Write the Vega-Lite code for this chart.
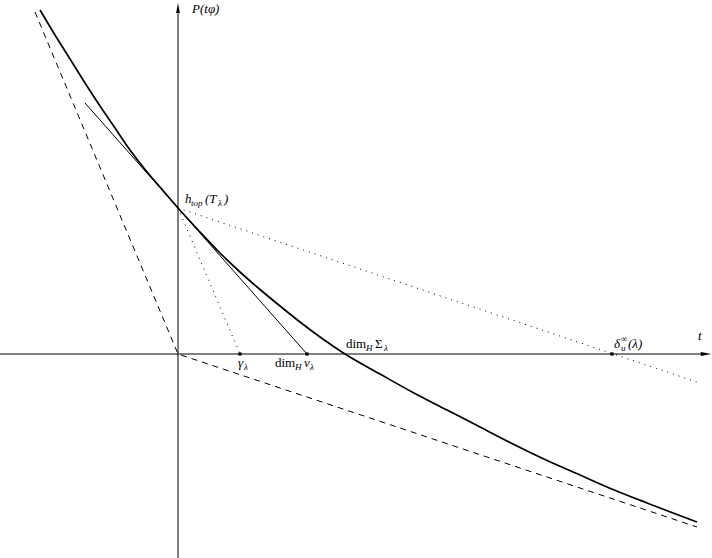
{
  "$schema": "https://vega.github.io/schema/vega-lite/v6.json",
  "width": 712,
  "height": 558,
  "autosize": "none",
  "padding": 0,
  "background": "white",
  "config": {"view": {"stroke": null}},
  "datasets": {
    "segs": [
      {"g": "xaxis", "s": "axis", "o": 1, "t": -1.78, "P": 0},
      {"g": "xaxis", "s": "axis", "o": 2, "t": 5.23, "P": 0},
      {"g": "yaxis", "s": "axis", "o": 1, "t": 0, "P": -2.04},
      {"g": "yaxis", "s": "axis", "o": 2, "t": 0, "P": 3.40},
      {"g": "tan", "s": "thin", "o": 1, "t": -0.93, "P": 2.51},
      {"g": "tan", "s": "thin", "o": 2, "t": 1.29, "P": 0},
      {"g": "dash", "s": "dashed", "o": 1, "t": -1.43, "P": 3.42},
      {"g": "dash", "s": "dashed", "o": 2, "t": 0, "P": 0},
      {"g": "dash", "s": "dashed", "o": 3, "t": 5.19, "P": -1.73},
      {"g": "dot1", "s": "dotted", "o": 1, "t": 0, "P": 1.46},
      {"g": "dot1", "s": "dotted", "o": 2, "t": 0.62, "P": 0},
      {"g": "dot2", "s": "dotted", "o": 1, "t": 0, "P": 1.46},
      {"g": "dot2", "s": "dotted", "o": 2, "t": 5.22, "P": -0.29}
    ],
    "curve": [
      {"t": -1.38, "P": 3.44},
      {"t": -1.23, "P": 3.19},
      {"t": -1.08, "P": 2.95},
      {"t": -0.93, "P": 2.71},
      {"t": -0.78, "P": 2.48},
      {"t": -0.63, "P": 2.26},
      {"t": -0.48, "P": 2.04},
      {"t": -0.33, "P": 1.845},
      {"t": -0.18, "P": 1.67},
      {"t": 0, "P": 1.46},
      {"t": 0.22, "P": 1.22},
      {"t": 0.42, "P": 1.01},
      {"t": 0.62, "P": 0.82},
      {"t": 0.82, "P": 0.645},
      {"t": 1.02, "P": 0.48},
      {"t": 1.22, "P": 0.32},
      {"t": 1.42, "P": 0.17},
      {"t": 1.67, "P": 0},
      {"t": 2.02, "P": -0.20},
      {"t": 2.35, "P": -0.385},
      {"t": 2.69, "P": -0.56},
      {"t": 3.02, "P": -0.73},
      {"t": 3.35, "P": -0.90},
      {"t": 3.68, "P": -1.06},
      {"t": 4.02, "P": -1.21},
      {"t": 4.35, "P": -1.355},
      {"t": 4.69, "P": -1.49},
      {"t": 5.19, "P": -1.68}
    ],
    "arrows": [
      {"dir": "up", "t": 0, "P": 3.46},
      {"dir": "right", "t": 5.28, "P": 0}
    ],
    "marks": [
      {"name": "gamma", "t": 0.62, "P": 0},
      {"name": "dimnu", "t": 1.29, "P": 0},
      {"name": "delta", "t": 4.34, "P": 0}
    ],
    "italic": [
      {"txt": "P(tφ)", "t": 0.14, "P": 3.41},
      {"txt": "h", "t": 0.07, "P": 1.51},
      {"txt": "(T", "t": 0.27, "P": 1.51},
      {"txt": ")", "t": 0.46, "P": 1.51},
      {"txt": "γ", "t": 0.60, "P": -0.13},
      {"txt": "ν", "t": 1.26, "P": -0.13},
      {"txt": "δ", "t": 4.36, "P": 0.06},
      {"txt": "(λ)", "t": 4.50, "P": 0.06},
      {"txt": "t", "t": 5.20, "P": 0.14}
    ],
    "roman": [
      {"txt": "dim", "t": 0.97, "P": -0.13},
      {"txt": "dim", "t": 1.68, "P": 0.06},
      {"txt": "Σ", "t": 1.97, "P": 0.06}
    ],
    "scripts": [
      {"txt": "top", "t": 0.13, "P": 1.48},
      {"txt": "λ", "t": 0.40, "P": 1.48},
      {"txt": "λ", "t": 0.66, "P": -0.16},
      {"txt": "H", "t": 1.17, "P": -0.16},
      {"txt": "λ", "t": 1.32, "P": -0.16},
      {"txt": "H", "t": 1.88, "P": 0.03},
      {"txt": "λ", "t": 2.06, "P": 0.03},
      {"txt": "u", "t": 4.43, "P": 0.03},
      {"txt": "∞", "t": 4.43, "P": 0.12}
    ]
  },
  "encoding": {
    "x": {"field": "t", "type": "quantitative", "axis": null, "scale": {"domain": [-1.78, 5.34], "nice": false, "zero": false}},
    "y": {"field": "P", "type": "quantitative", "axis": null, "scale": {"domain": [-2.04, 3.54], "nice": false, "zero": false}}
  },
  "layer": [
    {
      "data": {"name": "segs"},
      "transform": [{"filter": "datum.s === 'axis'"}],
      "mark": {"type": "line", "color": "black", "strokeWidth": 1},
      "encoding": {"detail": {"field": "g"}, "order": {"field": "o", "type": "quantitative"}}
    },
    {
      "data": {"name": "segs"},
      "transform": [{"filter": "datum.s === 'thin'"}],
      "mark": {"type": "line", "color": "black", "strokeWidth": 1},
      "encoding": {"detail": {"field": "g"}, "order": {"field": "o", "type": "quantitative"}}
    },
    {
      "data": {"name": "segs"},
      "transform": [{"filter": "datum.s === 'dashed'"}],
      "mark": {"type": "line", "color": "black", "strokeWidth": 1, "strokeDash": [6, 5]},
      "encoding": {"detail": {"field": "g"}, "order": {"field": "o", "type": "quantitative"}}
    },
    {
      "data": {"name": "segs"},
      "transform": [{"filter": "datum.s === 'dotted'"}],
      "mark": {"type": "line", "color": "black", "strokeWidth": 1, "strokeDash": [1, 5]},
      "encoding": {"detail": {"field": "g"}, "order": {"field": "o", "type": "quantitative"}}
    },
    {
      "data": {"name": "curve"},
      "mark": {"type": "line", "color": "black", "strokeWidth": 1.7, "interpolate": "monotone"},
      "encoding": {}
    },
    {
      "data": {"name": "arrows"},
      "transform": [{"filter": "datum.dir === 'up'"}],
      "mark": {"type": "point", "filled": true, "color": "black", "opacity": 1, "size": 110, "shape": "M0,-1L0.36,1L-0.36,1Z"}
    },
    {
      "data": {"name": "arrows"},
      "transform": [{"filter": "datum.dir === 'right'"}],
      "mark": {"type": "point", "filled": true, "color": "black", "opacity": 1, "size": 110, "shape": "M1,0L-1,-0.36L-1,0.36Z"}
    },
    {
      "data": {"name": "marks"},
      "mark": {"type": "point", "filled": true, "color": "black", "opacity": 1, "size": 10, "shape": "square"}
    },
    {
      "data": {"name": "italic"},
      "mark": {"type": "text", "font": "Liberation Serif", "fontStyle": "italic", "fontSize": 13, "align": "left", "baseline": "alphabetic", "color": "black"},
      "encoding": {"text": {"field": "txt"}}
    },
    {
      "data": {"name": "roman"},
      "mark": {"type": "text", "font": "Liberation Serif", "fontSize": 13, "align": "left", "baseline": "alphabetic", "color": "black"},
      "encoding": {"text": {"field": "txt"}}
    },
    {
      "data": {"name": "scripts"},
      "mark": {"type": "text", "font": "Liberation Serif", "fontStyle": "italic", "fontSize": 9, "align": "left", "baseline": "alphabetic", "color": "black"},
      "encoding": {"text": {"field": "txt"}}
    }
  ]
}
